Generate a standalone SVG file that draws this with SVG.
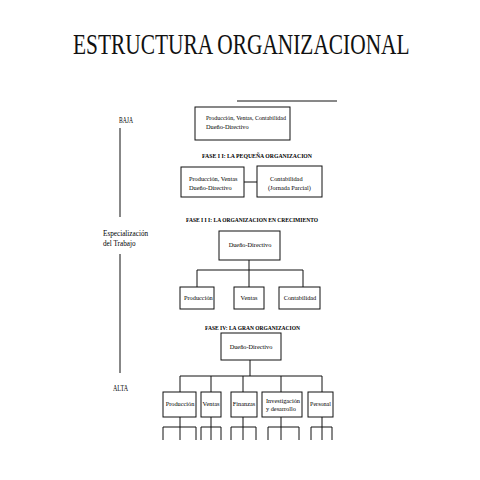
<svg xmlns="http://www.w3.org/2000/svg" width="480" height="480" viewBox="0 0 480 480">
<style>
.bg{fill:#fff}
.box{fill:#fff;stroke:#111;stroke-width:1}
.ln{stroke:#111;stroke-width:1;fill:none}
.t{font-family:"Liberation Serif","Times New Roman",serif;font-size:6.3px;fill:#000}
.c{text-anchor:middle}
.ph{font-family:"Liberation Serif","Times New Roman",serif;font-size:6.2px;font-weight:bold;fill:#000}
.side{font-family:"Liberation Serif","Times New Roman",serif;font-size:7.2px;fill:#000}
.title{font-family:"Liberation Serif","Times New Roman",serif;font-size:29px;fill:#111}
</style>
<rect class="bg" x="0" y="0" width="480" height="480"/>
<text class="title" transform="translate(73,54) scale(0.737,1)" x="0" y="0">ESTRUCTURA ORGANIZACIONAL</text>

<g id="axis">
<text class="side" x="119" y="123" font-size="5.8px" textLength="14" lengthAdjust="spacingAndGlyphs">BAJA</text>
<line class="ln" x1="120" y1="128" x2="120" y2="217" stroke-width="1.2"/>
<text class="side" x="103" y="236">Especialización</text>
<text class="side" x="103" y="246">del Trabajo</text>
<line class="ln" x1="120" y1="254" x2="120" y2="373" stroke-width="1.2"/>
<text class="side" x="113" y="391" font-size="5.8px" textLength="15" lengthAdjust="spacingAndGlyphs">ALTA</text>
</g>

<g id="connectors">
<line class="ln" x1="237" y1="101" x2="337" y2="101" stroke="#555" stroke-width="0.8"/>
<line class="ln" x1="244" y1="182" x2="257" y2="182" stroke-width="1.3"/>
<path class="ln" d="M249 260V270M197 287V270H303V287M249 270V287"/>
<path class="ln" d="M250 360V376M180 392V376H322V392M211 376V392M243 376V392M281 376V392"/>
<path class="ln" d="M180 417V440M163 440V427H196V440"/>
<path class="ln" d="M211 417V440M201 440V427H221V440"/>
<path class="ln" d="M243 417V440M231 440V427H256V440"/>
<path class="ln" d="M281 417V440M268 440V427H299V440"/>
<path class="ln" d="M322 417V440M311 440V427H332V440"/>
</g>

<g id="fase1">
<rect class="box" x="195" y="107" width="95" height="33"/>
<text class="t" x="206" y="120" textLength="80" lengthAdjust="spacingAndGlyphs">Producción, Ventas, Contabilidad</text>
<text class="t" x="206" y="129">Dueño-Directivo</text>
</g>

<text class="ph" x="202" y="158" textLength="110" lengthAdjust="spacingAndGlyphs">FASE I I: LA  PEQUEÑA ORGANIZACION</text>

<g id="fase2-a">
<rect class="box" x="181" y="167" width="63" height="30"/>
<text class="t" x="189" y="181">Producción, Ventas</text>
<text class="t" x="189" y="190">Dueño-Directivo</text>
</g>
<g id="fase2-b">
<rect class="box" x="257" y="166" width="65" height="31"/>
<text class="t" x="270" y="181">Contabilidad</text>
<text class="t" x="268" y="190">(Jornada Parcial)</text>
</g>

<text class="ph" x="186" y="222" textLength="132" lengthAdjust="spacingAndGlyphs">FASE I I I: LA ORGANIZACION EN CRECIMIENTO</text>

<g id="fase3-top">
<rect class="box" x="219" y="231" width="61" height="29"/>
<text class="t c" x="250" y="247">Dueño-Directivo</text>
</g>
<g id="fase3-prod">
<rect class="box" x="180" y="287" width="34" height="22"/>
<text class="t" x="184" y="300">Producción</text>
</g>
<g id="fase3-ventas">
<rect class="box" x="234" y="287" width="30" height="22"/>
<text class="t c" x="249" y="300">Ventas</text>
</g>
<g id="fase3-cont">
<rect class="box" x="279" y="287" width="41" height="22"/>
<text class="t c" x="300" y="300">Contabilidad</text>
</g>

<text class="ph" x="205" y="330" textLength="95" lengthAdjust="spacingAndGlyphs">FASE IV: LA GRAN ORGANIZACION</text>

<g id="fase4-top">
<rect class="box" x="221" y="333" width="60" height="27"/>
<text class="t c" x="251" y="349">Dueño-Directivo</text>
</g>
<g id="fase4-prod">
<rect class="box" x="163" y="392" width="33" height="25"/>
<text class="t c" x="180" y="406">Producción</text>
</g>
<g id="fase4-ventas">
<rect class="box" x="201" y="392" width="20" height="25"/>
<text class="t c" x="211" y="406" textLength="17" lengthAdjust="spacingAndGlyphs">Ventas</text>
</g>
<g id="fase4-fin">
<rect class="box" x="231" y="392" width="26" height="25"/>
<text class="t c" x="244" y="406">Finanzas</text>
</g>
<g id="fase4-inv">
<rect class="box" x="262" y="392" width="40" height="25"/>
<text class="t" x="266" y="403">Investigación</text>
<text class="t" x="266" y="411">y desarrollo</text>
</g>
<g id="fase4-pers">
<rect class="box" x="308" y="392" width="25" height="25"/>
<text class="t" x="310" y="406" textLength="21" lengthAdjust="spacingAndGlyphs">Personal</text>
</g>
</svg>
